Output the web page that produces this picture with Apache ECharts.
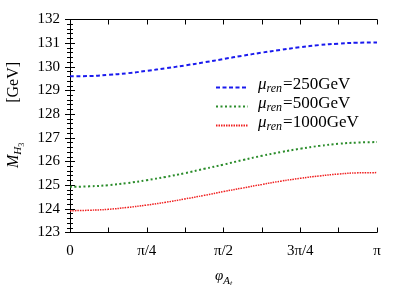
<!DOCTYPE html>
<html>
<head>
<meta charset="utf-8">
<script src="https://cdn.jsdelivr.net/npm/echarts@6/dist/echarts.min.js"></script>
<style>html,body{margin:0;padding:0;background:#fff}#c{width:407px;height:285px}</style>
</head>
<body>
<div id="c"></div>
<script>
// x in units of pi (0 .. pi in steps of pi/16)
var xValues = [0, 0.0625, 0.125, 0.1875, 0.25, 0.3125, 0.375, 0.4375, 0.5, 0.5625, 0.625, 0.6875, 0.75, 0.8125, 0.875, 0.9375, 1];
var mu250 = [129.60, 129.61, 129.66, 129.73, 129.83, 129.94, 130.06, 130.19, 130.33, 130.47, 130.60, 130.72, 130.83, 130.92, 130.98, 131.02, 131.03];
var mu500 = [124.93, 124.95, 125.00, 125.09, 125.21, 125.35, 125.51, 125.69, 125.87, 126.06, 126.24, 126.40, 126.54, 126.66, 126.75, 126.80, 126.82];
var mu1000 = [123.92, 123.94, 123.98, 124.06, 124.16, 124.28, 124.42, 124.57, 124.73, 124.88, 125.03, 125.17, 125.29, 125.39, 125.47, 125.52, 125.53];
var seriesNames = ['250', '500', '1000'];
var xTickLabels = {'0': '0', '0.25': 'π/4', '0.5': 'π/2', '0.75': '3π/4', '1': 'π'};
var yMin = 123, yMax = 132;

function pairs(ys) { return xValues.map(function (x, i) { return [x, ys[i]]; }); }

var FONT = 'Liberation Serif';
var axisCommon = {
  axisLine: { lineStyle: { color: '#000', width: 1 } },
  axisTick: { inside: true, length: 5, lineStyle: { color: '#000', width: 1 } },
  splitLine: { show: false }
};
function merge(a, b) { var o = {}; for (var k in a) o[k] = a[k]; for (var k2 in b) o[k2] = b[k2]; return o; }

var chart = echarts.init(document.getElementById('c'), null, { renderer: 'canvas' });
var legendRich = {
  mu: { fontFamily: FONT, fontStyle: 'italic', fontSize: 17, color: '#000', lineHeight: 15, verticalAlign: 'bottom', padding: [0,0,2,0] },
  sub: { fontFamily: FONT, fontStyle: 'italic', fontSize: 12, color: '#000', lineHeight: 15, verticalAlign: 'bottom', padding: [0,1,0,0] },
  t: { fontFamily: FONT, fontSize: 17, color: '#000', lineHeight: 15, verticalAlign: 'bottom', padding: [0,0,2,0] }
};
var names = seriesNames.map(function (s) { return 'μren=' + s + 'GeV'; });
chart.setOption({
  animation: false,
  grid: { left: 70, right: 30, top: 19.5, bottom: 52.5, outerBoundsMode: 'none', containLabel: false },
  legend: {
    data: names,
    orient: 'vertical',
    left: 210, top: 71,
    itemWidth: 32, itemHeight: 14, itemGap: 0,
    itemStyle: { opacity: 0 },
    formatter: function (n) {
      var v = n.replace('μren=', '').replace('GeV', '');
      return '{mu|μ}{sub|ren}{t|=' + v + 'GeV}';
    },
    textStyle: { rich: legendRich, padding: [0, 0, 0, 5] }
  },
  xAxis: [
    merge(axisCommon, {
      type: 'value', min: 0, max: 1, interval: 0.25, position: 'bottom',
      minorTick: { show: true, splitNumber: 2, length: 5, lineStyle: { color: '#000', width: 1 } },
      axisLabel: {
        fontFamily: FONT, fontSize: 15, color: '#000', margin: 11,
        formatter: function (v) { return xTickLabels[String(v)]; }
      },
      name: '{phi|φ}{sub|A}{sub2|t}',
      nameLocation: 'middle', nameGap: 33,
      nameTextStyle: {
        rich: {
          phi: { fontFamily: FONT, fontStyle: 'italic', fontSize: 15, color: '#000', lineHeight: 22, verticalAlign: 'bottom', padding: [0,0,4,0] },
          sub: { fontFamily: FONT, fontStyle: 'italic', fontSize: 11, color: '#000', lineHeight: 22, verticalAlign: 'bottom', padding: [0,0,1,0] },
          sub2: { fontFamily: FONT, fontStyle: 'italic', fontSize: 8, color: '#000', lineHeight: 22, verticalAlign: 'bottom' }
        }
      }
    }),
    merge(axisCommon, {
      type: 'value', min: 0, max: 1, interval: 0.25, position: 'top',
      minorTick: { show: true, splitNumber: 2, length: 5, lineStyle: { color: '#000', width: 1 } },
      axisLabel: { show: false }
    })
  ],
  yAxis: [
    merge(axisCommon, {
      type: 'value', min: yMin, max: yMax, interval: 1, position: 'left',
      minorTick: { show: true, splitNumber: 5, length: 3, lineStyle: { color: '#000', width: 1 } },
      axisLabel: { fontFamily: FONT, fontSize: 15, color: '#000', margin: 10 },
      name: '{pad|}{m|M}{sub|H}{sub2|3}{gap|}{t|[GeV]}',
      nameLocation: 'middle', nameGap: 44, nameRotate: 90,
      nameTextStyle: {
        rich: {
          pad: { width: 22 },
          m: { fontFamily: FONT, fontStyle: 'italic', fontSize: 16, color: '#000', lineHeight: 22, verticalAlign: 'bottom', padding: [0,0,4,0] },
          sub: { fontFamily: FONT, fontStyle: 'italic', fontSize: 11, color: '#000', lineHeight: 22, verticalAlign: 'bottom', padding: [0,0,2,0] },
          sub2: { fontFamily: FONT, fontSize: 8, color: '#000', lineHeight: 22, verticalAlign: 'bottom' },
          gap: { width: 40 },
          t: { fontFamily: FONT, fontSize: 16, color: '#000', lineHeight: 22, verticalAlign: 'bottom', padding: [0,0,4,0] }
        }
      }
    }),
    merge(axisCommon, {
      type: 'value', min: yMin, max: yMax, interval: 1, position: 'right',
      minorTick: { show: true, splitNumber: 5, length: 3, lineStyle: { color: '#000', width: 1 } },
      axisLabel: { show: false }
    })
  ],
  series: [
    { name: names[0], type: 'line', smooth: true, symbol: 'none', data: pairs(mu250),
      lineStyle: { color: '#1a1aee', width: 2, type: [4, 2.5] }, itemStyle: { color: '#1a1aee' } },
    { name: names[1], type: 'line', smooth: true, symbol: 'none', data: pairs(mu500),
      lineStyle: { color: '#2a8c2a', width: 2, type: [2, 2.5] }, itemStyle: { color: '#2a8c2a' } },
    { name: names[2], type: 'line', smooth: true, symbol: 'none', data: pairs(mu1000),
      lineStyle: { color: '#f02020', width: 1.5, type: [1.5, 1] }, itemStyle: { color: '#f02020' } }
  ]
});
</script>
</body>
</html>
